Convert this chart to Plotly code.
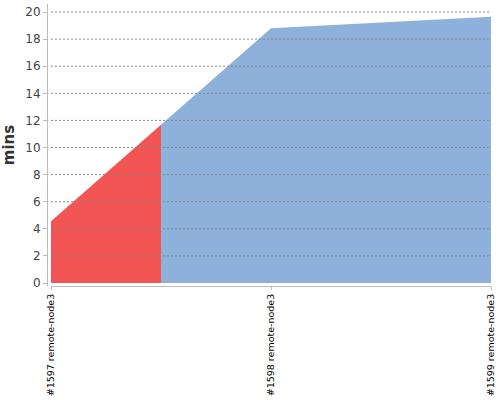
import plotly.graph_objects as go

builds = ["#1597 remote-node3", "#1598 remote-node3", "#1599 remote-node3"]
durations = [4.55, 18.8, 19.65]
results = ["FAILURE", "SUCCESS", "SUCCESS"]
y_ticks = [0, 2, 4, 6, 8, 10, 12, 14, 16, 18, 20]

status_colors = {"FAILURE": "#F35555", "SUCCESS": "#8DB1DA"}

n = len(builds)
xpos = list(range(n))


def interp(x):
    i = int(x)
    if i >= n - 1:
        return durations[-1]
    f = x - i
    return durations[i] + (durations[i + 1] - durations[i]) * f


# group consecutive builds with the same result
runs = []
start = 0
for i in range(1, n + 1):
    if i == n or results[i] != results[start]:
        runs.append((start, i - 1))
        start = i

fig = go.Figure()
for a, b in runs:
    xs, ys = [], []
    if a > 0:
        xs.append(a - 0.5)
        ys.append(interp(a - 0.5))
    for k in range(a, b + 1):
        xs.append(xpos[k])
        ys.append(durations[k])
    if b < n - 1:
        xs.append(b + 0.5)
        ys.append(interp(b + 0.5))
    fig.add_trace(go.Scatter(
        x=xs, y=ys, mode="lines", fill="tozeroy",
        line=dict(width=0, color=status_colors[results[a]]),
        fillcolor=status_colors[results[a]],
        hoverinfo="skip", showlegend=False,
    ))

for v in y_ticks[1:]:
    fig.add_shape(type="line", xref="x domain", yref="y", x0=0, x1=1, y0=v, y1=v,
                  line=dict(color="#888888", width=1, dash="2px,2px"), layer="above")

fig.update_layout(
    width=500, height=400,
    margin=dict(l=47, r=9, t=4, b=114, autoexpand=False),
    paper_bgcolor="white", plot_bgcolor="white",
    font=dict(family="DejaVu Sans", color="#444444"),
    xaxis=dict(
        domain=[4 / 444, 1],
        range=[0, n - 1],
        automargin=False,
        tickvals=xpos, ticktext=builds, tickangle=-90,
        tickfont=dict(size=9.5, color="#000000"),
        showgrid=False, zeroline=False,
        showline=True, linecolor="#BBBBBB", linewidth=1,
        ticks="outside", ticklen=3, tickcolor="#BBBBBB",
    ),
    yaxis=dict(
        anchor="free", position=0,
        automargin=False,
        range=[-0.22, 20.59],
        tickvals=y_ticks,
        tickfont=dict(size=12, color="#444444"),
        showgrid=False, zeroline=False,
        showline=True, linecolor="#BBBBBB", linewidth=1,
        ticks="outside", ticklen=4, tickcolor="#BBBBBB",
        title=dict(text="<b>mins</b>", font=dict(size=15, color="#333333"), standoff=8),
    ),
)

fig.write_html(
    "out.html",
    config={"displayModeBar": False},
    post_script="document.body.style.margin='0';document.body.style.overflow='hidden';",
)
